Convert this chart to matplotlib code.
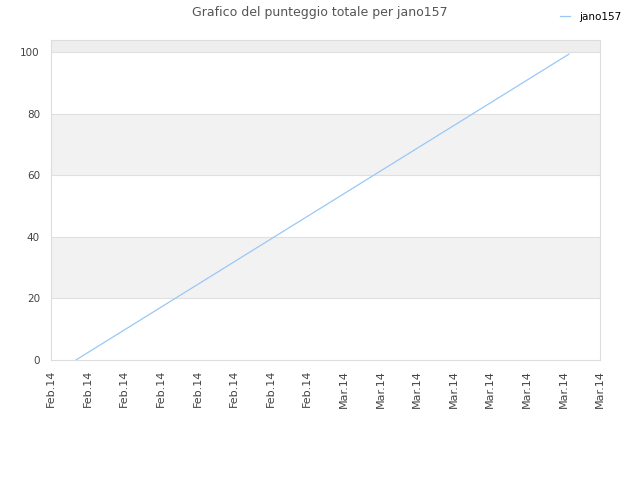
import matplotlib
matplotlib.use("Agg")
from matplotlib import pyplot as plt

# etichette asse x e dati
tick_labels = ["Feb.14"] * 8 + ["Mar.14"] * 8
giorni = [0.68, 14.15]
punteggio = [0, 99.4]
fasce = [(20, 40), (60, 80), (100, 104)]
colori_fasce = ["#f2f2f2", "#f2f2f2", "#eeeeee"]

fig = plt.figure(figsize=(6.4, 4.8), dpi=100)
ax = fig.add_axes([51 / 640, 120 / 480, 549 / 640, 320 / 480])

for (a, b), c in zip(fasce, colori_fasce):
    ax.axhspan(a, b, color=c, zorder=0, lw=0)
for y in [20, 40, 60, 80, 100]:
    ax.axhline(y, color="#e0e0e0", lw=0.8, zorder=1)

ax.plot(giorni, punteggio, color="#99c8f5", lw=0.9, label="jano157", zorder=3)

ax.set_xlim(0, 15)
ax.set_ylim(0, 104)
ax.set_xticks(range(len(tick_labels)))
ax.set_xticklabels(tick_labels, rotation=90, fontsize=8, color="#444444")
ax.set_yticks([0, 20, 40, 60, 80, 100])
ax.tick_params(axis="y", labelsize=7.5, colors="#444444", length=0, pad=8)
ax.tick_params(axis="x", length=0, pad=7)
for s in ax.spines.values():
    s.set_color("#dddddd")
    s.set_linewidth(0.8)

fig.text(0.5, 0.988, "Grafico del punteggio totale per jano157", ha="center", va="top",
         fontsize=9, color="#555555")
fig.legend(loc="upper right", bbox_to_anchor=(0.985, 0.995), frameon=False, fontsize=7.5,
           handlelength=1, handletextpad=0.8)

plt.savefig("out.png")
